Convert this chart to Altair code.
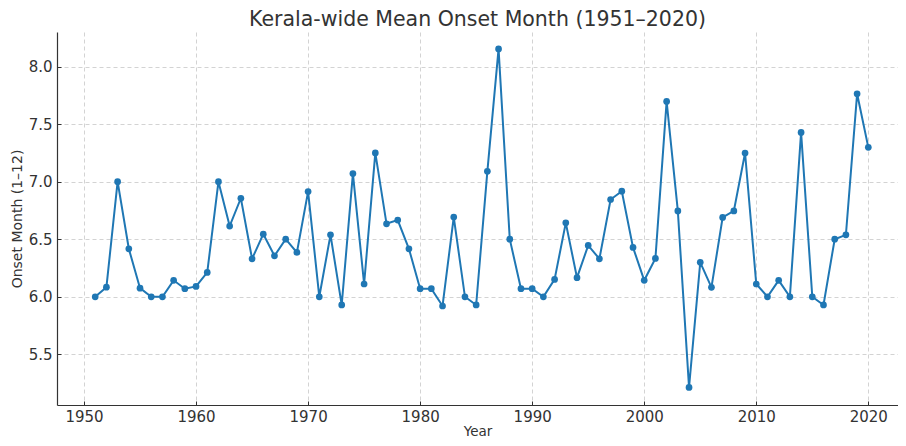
import altair as alt
import pandas as pd

years = list(range(1951, 2021))
onset = [
    6.0, 6.083, 7.0, 6.417, 6.075, 6.0, 6.0, 6.143, 6.07, 6.09,
    6.212, 7.0, 6.614, 6.856, 6.33, 6.544, 6.356, 6.5, 6.385, 6.914,
    6.0, 6.538, 5.929, 7.07, 6.111, 7.25, 6.634, 6.666, 6.417, 6.07,
    6.07, 5.92, 6.692, 6.0, 5.929, 7.09, 8.153, 6.5, 6.07, 6.07,
    6.0, 6.151, 6.642, 6.166, 6.446, 6.33, 6.845, 6.917, 6.429, 6.143,
    6.333, 7.697, 6.746, 5.213, 6.299, 6.082, 6.689, 6.746, 7.249, 6.111,
    6.0, 6.143, 6.0, 7.428, 6.0, 5.929, 6.5, 6.538, 7.763, 7.298,
]
x_ticks = [1950, 1960, 1970, 1980, 1990, 2000, 2010, 2020]
y_ticks = [5.5, 6.0, 6.5, 7.0, 7.5, 8.0]

df = pd.DataFrame({"Year": years, "Onset": onset})

W, H = 841, 373
FONT = "DejaVu Sans"
TXT = "#333333"

xscale = alt.Scale(domain=[1947.59, 2022.65], nice=False, zero=False)
yscale = alt.Scale(domain=[5.06, 8.30], nice=False, zero=False)

x_main = alt.X(
    "Year:Q", scale=xscale,
    axis=alt.Axis(
        values=x_ticks, format="d", title="Year", ticks=False,
        grid=True, gridColor="#c8c8c8", gridDash=[4, 3], gridWidth=0.8,
        domainColor="#333333", domainWidth=1.2,
        labelFont=FONT, labelFontSize=15, labelColor=TXT, labelPadding=4,
        titleFont=FONT, titleFontSize=13.5, titleColor=TXT, titleFontWeight="normal",
        titlePadding=0, labelFlush=False,
    ),
)
y_main = alt.Y(
    "Onset:Q", scale=yscale,
    axis=alt.Axis(
        values=y_ticks, format=".1f", title="Onset Month (1–12)", ticks=False,
        grid=True, gridColor="#c8c8c8", gridDash=[4, 3], gridWidth=0.8,
        domainColor="#333333", domainWidth=1.2,
        labelFont=FONT, labelFontSize=15, labelColor=TXT, labelPadding=5,
        titleFont=FONT, titleFontSize=14, titleColor=TXT, titleFontWeight="normal",
        titlePadding=4, labelFlush=False,
    ),
)

base = alt.Chart(df)

line = base.mark_line(
    color="#1f77b4", strokeWidth=2,
    point=alt.OverlayMarkDef(color="#1f77b4", size=45, filled=True, opacity=1),
).encode(x=x_main, y=y_main)

# invisible layer carrying inward-pointing tick marks
ticks_layer = base.mark_circle(opacity=0).encode(
    x=alt.X("Year:Q", scale=xscale, axis=alt.Axis(
        orient="top", offset=-H, values=x_ticks, labels=False, title="",
        domain=False, grid=False, ticks=True, tickSize=4, tickColor="#333333", tickWidth=1)),
    y=alt.Y("Onset:Q", scale=yscale, axis=alt.Axis(
        orient="right", offset=-W, values=y_ticks, labels=False, title="",
        domain=False, grid=False, ticks=True, tickSize=4, tickColor="#333333", tickWidth=1)),
)

chart = (
    alt.layer(ticks_layer, line)
    .resolve_axis(x="independent", y="independent")
    .properties(
        width=W, height=H,
        title=alt.TitleParams(
            "Kerala-wide Mean Onset Month (1951–2020)",
            font=FONT, fontSize=20.5, fontWeight="normal", color=TXT,
            anchor="middle", offset=2,
        ),
        autosize=alt.AutoSizeParams(type="none"),
        padding={"left": 49, "top": 24, "right": 0, "bottom": 33},
    )
    .configure_view(stroke=None)
)

chart.save("out.html", embed_options={"renderer": "svg", "actions": False})
